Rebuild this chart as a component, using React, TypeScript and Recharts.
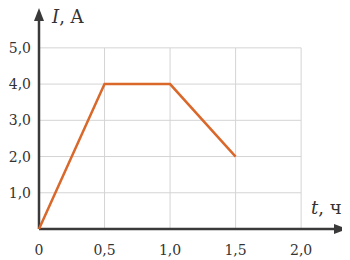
import React from "react";
import {
  LineChart,
  Line,
  XAxis,
  YAxis,
  ReferenceLine,
  ReferenceDot,
} from "recharts";

const times = [0, 0.5, 1.0, 1.5];
const current = [0, 4.0, 4.0, 2.0];
const xTicks = [0, 0.5, 1.0, 1.5, 2.0];
const yTicks = [1.0, 2.0, 3.0, 4.0, 5.0];

const data = times.map((t, i) => ({ t, i: current[i] }));

const FONT = "'DejaVu Serif', serif";
const GRID = "#d4d4d4";
const AXIS = "#3a3a3a";

const fmt = (v: number) => (v === 0 ? "0" : v.toFixed(1).replace(".", ","));

const Arrow = (props: any) => {
  const { x1, y1, x2, y2 } = props;
  const dx = x2 - x1;
  const dy = y2 - y1;
  const len = Math.sqrt(dx * dx + dy * dy) || 1;
  const ux = dx / len;
  const uy = dy / len;
  const hl = 13;
  const hw = 5;
  const bx = x2 - ux * hl;
  const by = y2 - uy * hl;
  return (
    <g>
      <line x1={x1} y1={y1} x2={bx} y2={by} stroke={AXIS} strokeWidth={2.5} />
      <polygon
        points={`${x2},${y2} ${bx - uy * hw},${by + ux * hw} ${bx + uy * hw},${by - ux * hw}`}
        fill={AXIS}
      />
    </g>
  );
};

export default function App() {
  return (
    <div style={{ margin: "-8px 0 0 -8px" }}>
      <LineChart
        width={350}
        height={260}
        data={data}
        margin={{ top: 8, right: 3, left: 9, bottom: 0 }}
      >
        <XAxis
          dataKey="t"
          type="number"
          domain={[0, 2.35]}
          ticks={xTicks}
          tickFormatter={fmt}
          axisLine={false}
          tickLine={false}
          height={31}
          tick={{ fill: "#333", fontSize: 14, fontFamily: FONT }}
          tickMargin={10}
        />
        <YAxis
          type="number"
          domain={[0, 6.1]}
          ticks={yTicks}
          tickFormatter={fmt}
          axisLine={false}
          tickLine={false}
          width={30}
          tick={{ fill: "#333", fontSize: 14, fontFamily: FONT }}
          tickMargin={2}
        />
        {yTicks.map((y) => (
          <ReferenceLine
            key={"h" + y}
            segment={[
              { x: 0, y },
              { x: 2.0, y },
            ]}
            stroke={GRID}
            strokeWidth={1}
          />
        ))}
        {xTicks.slice(1).map((x) => (
          <ReferenceLine
            key={"v" + x}
            segment={[
              { x, y: 0 },
              { x, y: 5.0 },
            ]}
            stroke={GRID}
            strokeWidth={1}
          />
        ))}
        <ReferenceLine
          segment={[
            { x: 0, y: 0 },
            { x: 2.35, y: 0 },
          ]}
          shape={Arrow}
        />
        <ReferenceLine
          segment={[
            { x: 0, y: 0 },
            { x: 0, y: 6.1 },
          ]}
          shape={Arrow}
        />
        <Line
          dataKey="i"
          stroke="#d9682a"
          strokeWidth={2.5}
          dot={false}
          isAnimationActive={false}
        />
        <ReferenceDot
          x={0}
          y={6.1}
          r={0}
          label={{
            content: (p: any) => (
              <text
                x={(p.viewBox?.x ?? 0) + 13}
                y={(p.viewBox?.y ?? 0) + 15}
                fontFamily={FONT}
                fontSize={18}
                fill="#333"
              >
                <tspan fontStyle="italic">I</tspan>, A
              </text>
            ),
          }}
        />
        <ReferenceDot
          x={2.35}
          y={0}
          r={0}
          label={{
            content: (p: any) => (
              <text
                x={(p.viewBox?.x ?? 0) - 36}
                y={(p.viewBox?.y ?? 0) - 15}
                fontFamily={FONT}
                fontSize={18}
                fill="#333"
              >
                <tspan fontStyle="italic">t</tspan>, ч
              </text>
            ),
          }}
        />
      </LineChart>
    </div>
  );
}
